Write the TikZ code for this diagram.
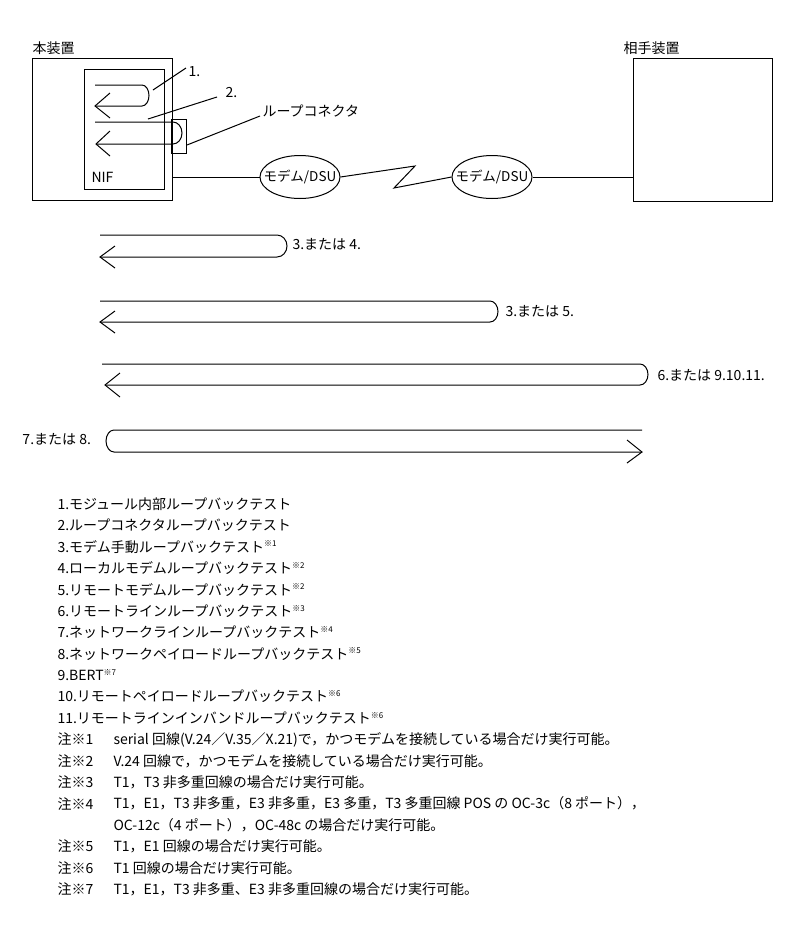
\documentclass[tikz,border=0pt]{standalone}
\usepackage{fontspec}
\setmainfont{Noto Sans CJK JP}
\usetikzlibrary{shapes.geometric}
\newcommand{\nt}[1]{\textsuperscript{\fontsize{8}{8}\selectfont ※#1}}
\begin{document}
\begin{tikzpicture}[x=1pt,y=-1pt,line width=1pt,
  lbl/.style={anchor=west,inner sep=0pt,font=\fontsize{14}{16}\selectfont},
  boxs/.style={draw,inner sep=0pt,anchor=north west},
  modem/.style={draw,ellipse,minimum width=80pt,minimum height=43pt,inner sep=0pt},
  mtext/.style={inner sep=0pt,font=\fontsize{13.5}{15}\selectfont}]
\useasboundingbox (0,0) rectangle (793,930);
% devices
\node[boxs,minimum width=140pt,minimum height=142pt] (dev) at (32,58) {};
\node[boxs,minimum width=80pt,minimum height=120pt] (nif) at (84,69) {};
\node[boxs,minimum width=15pt,minimum height=34pt] (conn) at (171,119) {};
\node[boxs,minimum width=139pt,minimum height=143pt] (peer) at (633,58) {};
\node[lbl] (devl) at (32,48) {本装置};
\node[lbl] (peerl) at (623,48) {相手装置};
\node[lbl] (nifl) at (91,177) {NIF};
% internal loops
\draw (95,85) -- (142,85) arc[start angle=-90,end angle=90,x radius=7,y radius=10.5] -- (95,106);
\draw (110,93) -- (95,106) -- (110,118);
\draw (95,122) -- (173,122) arc[start angle=-90,end angle=90,x radius=9,y radius=11] -- (96,144);
\draw (110,131) -- (96,144) -- (110,156);
% leaders
\node[lbl] (l1) at (188,72) {1.};
\node[lbl] (l2) at (225,93) {2.};
\node[lbl] (lc) at (262,111) {ループコネクタ};
\coordinate (p1) at (153,90);
\coordinate (p2) at (148,119);
\coordinate (p3) at (187,145);
\draw (p1) -- (186,68);
\draw (p2) -- (217,97);
\draw (p3) -- (260,116);
% modems
\node[modem] (m1) at (300,177) {};
\node[mtext] (m1t) at (m1) {モデム/DSU};
\node[modem] (m2) at (492,177) {};
\node[mtext] (m2t) at (m2) {モデム/DSU};
\coordinate (z1) at (415,166);
\coordinate (z2) at (394,188);
\draw (m1.west -| dev.east) -- (m1.west);
\draw (m1.east) -- (z1) -- (z2) -- (m2.west);
\draw (m2.east) -- (m2.east -| peer.west);
% loop tests
\draw (100,235) -- (277,235) arc[start angle=-90,end angle=90,x radius=10,y radius=11] -- (100,257);
\draw (115,246) -- (100,257) -- (115,268);
\node[lbl] at (292,244) {3.または 4.};
\draw (100,301) -- (490,301) arc[start angle=-90,end angle=90,x radius=8,y radius=10.5] -- (100,322);
\draw (115,311) -- (100,322) -- (115,333);
\node[lbl] at (505,311) {3.または 5.};
\draw (102,364) -- (640,364) arc[start angle=-90,end angle=90,x radius=8,y radius=10.5] -- (105,385);
\draw (120,373) -- (105,385) -- (120,397);
\node[lbl] at (657,375) {6.または 9.10.11.};
\draw (642,430) -- (114,430) arc[start angle=-90,end angle=-270,x radius=8,y radius=11] -- (642,452);
\draw (627,440) -- (642,452) -- (627,463);
\node[lbl] at (22,439) {7.または 8.};
% list
\foreach \t [count=\i from 0] in {
  1.モジュール内部ループバックテスト,
  2.ループコネクタループバックテスト,
  3.モデム手動ループバックテスト\nt{1},
  4.ローカルモデムループバックテスト\nt{2},
  5.リモートモデムループバックテスト\nt{2},
  6.リモートラインループバックテスト\nt{3},
  7.ネットワークラインループバックテスト\nt{4},
  8.ネットワークペイロードループバックテスト\nt{5},
  9.BERT\nt{7},
  10.リモートペイロードループバックテスト\nt{6},
  11.リモートラインインバンドループバックテスト\nt{6}}
  \node[lbl] at (57,504+21.4*\i) {\t};
\foreach \n/\k in {注※1/0,注※2/1,注※3/2,注※4/3,注※5/5,注※6/6,注※7/7}
  \node[lbl] at (57,739.4+21.4*\k) {\n};
\node[lbl] at (113,739.4) {serial 回線(V.24／V.35／X.21)で，かつモデムを接続している場合だけ実行可能。};
\node[lbl] at (113,760.8) {V.24 回線で，かつモデムを接続している場合だけ実行可能。};
\node[lbl] at (113,782.2) {T1，T3 非多重回線の場合だけ実行可能。};
\node[lbl] at (113,803.6) {T1，E1，T3 非多重，E3 非多重，E3 多重，T3 多重回線 POS の OC-3c（8 ポート），};
\node[lbl] at (113,825) {OC-12c（4 ポート），OC-48c の場合だけ実行可能。};
\node[lbl] at (113,846.4) {T1，E1 回線の場合だけ実行可能。};
\node[lbl] at (113,867.8) {T1 回線の場合だけ実行可能。};
\node[lbl] at (113,889.2) {T1，E1，T3 非多重、E3 非多重回線の場合だけ実行可能。};
\end{tikzpicture}
\end{document}
